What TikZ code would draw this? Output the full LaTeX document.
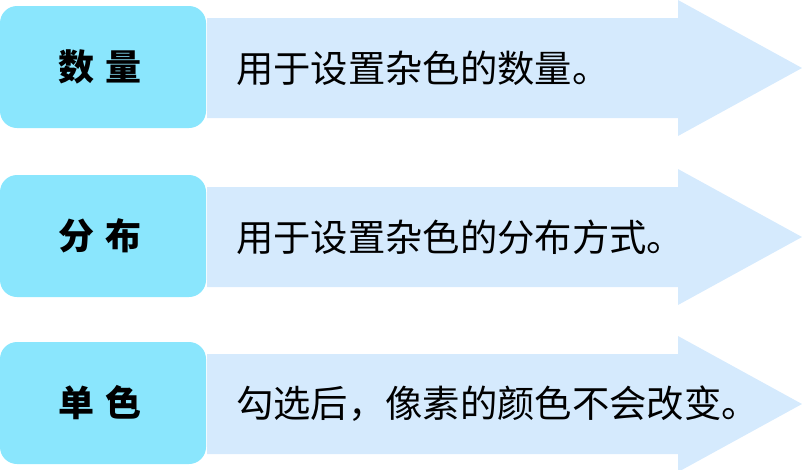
\documentclass[tikz,border=0pt]{standalone}
\usepackage{fontspec}
\newfontfamily\cjk{Noto Sans CJK SC}
\usetikzlibrary{positioning}
\definecolor{colKey}{HTML}{8AE6FD}
\definecolor{colArrow}{HTML}{D5EAFD}
\newcommand{\keygap}{\hspace{9pt}}

\begin{document}
\begin{tikzpicture}[
    x=0.75pt, y=-0.75pt,
    keybox/.style={fill=colKey, rounded corners=12.75pt},
    arrowbody/.style={fill=colArrow},
    keytxt/.style={font=\cjk\bfseries\fontsize{27}{30}\selectfont, inner sep=0pt},
    desctxt/.style={font=\cjk\fontsize{28}{30}\selectfont, anchor=west, inner sep=0pt},
]
\useasboundingbox (0,0) rectangle (802,469);

% ---- Row 1 ------------------------------------------------------------------
\fill[arrowbody] (207,18) -- (678,18) -- (678,0) -- (802,68) -- (678,136)
    -- (678,118) -- (207,118) -- cycle;
\fill[keybox] (0,6) rectangle (206,128);
\node[keytxt] (key1) at (100,67) {数\keygap 量};
\node[desctxt] (desc1) at (236,68) {用于设置杂色的数量。};

% ---- Row 2 ------------------------------------------------------------------
\fill[arrowbody] (207,187) -- (678,187) -- (678,169) -- (802,237) -- (678,305)
    -- (678,287) -- (207,287) -- cycle;
\fill[keybox] (0,175) rectangle (206,297);
\node[keytxt] (key2) at (100,236) {分\keygap 布};
\node[desctxt] (desc2) at (236,237) {用于设置杂色的分布方式。};

% ---- Row 3 ------------------------------------------------------------------
\fill[arrowbody] (207,354) -- (678,354) -- (678,336) -- (802,404) -- (678,472)
    -- (678,454) -- (207,454) -- cycle;
\fill[keybox] (0,342) rectangle (206,464);
\node[keytxt] (key3) at (100,403) {单\keygap 色};
\node[desctxt] (desc3) at (236,404) {勾选后，像素的颜色不会改变。};

\end{tikzpicture}
\end{document}
